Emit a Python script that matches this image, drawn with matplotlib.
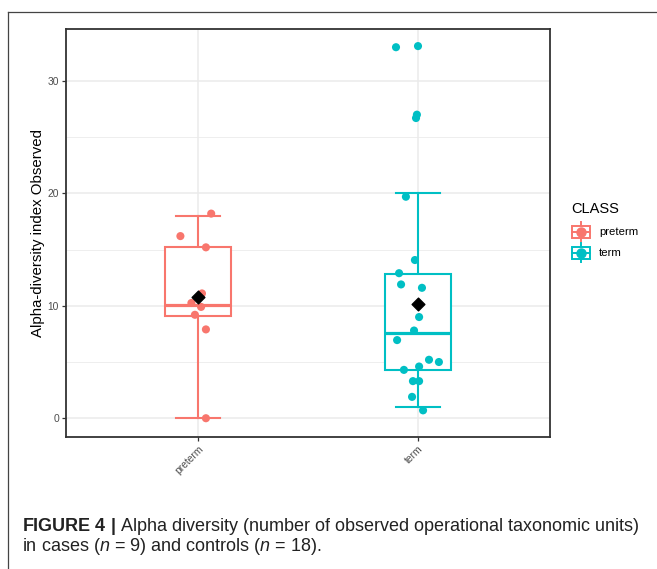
import matplotlib
matplotlib.use('Agg')
import matplotlib.pyplot as plt
from matplotlib.lines import Line2D
from matplotlib.patches import Rectangle
from matplotlib.legend_handler import HandlerBase

plt.rcParams['font.family'] = ['Liberation Sans', 'DejaVu Sans']
plt.rcParams['mathtext.fontset'] = 'custom'
plt.rcParams['mathtext.rm'] = 'Liberation Sans'
plt.rcParams['mathtext.it'] = 'Liberation Sans:italic'
plt.rcParams['mathtext.bf'] = 'Liberation Sans:bold'

classes = ['preterm', 'term']
colors = ['#F8766D', '#00BFC4']

# observed OTUs per sample, with the horizontal jitter
preterm_obs = [18.2, 16.2, 15.2, 11.1, 10.25, 9.9, 9.2, 7.9, 0.0]
preterm_jit = [0.06, -0.08, 0.036, 0.018, -0.03, 0.014, -0.014, 0.036, 0.036]
term_obs = [33.0, 33.1, 27.0, 26.7, 19.7, 14.07, 12.9, 11.9, 11.6, 9.0,
            7.8, 6.95, 5.2, 5.0, 4.6, 4.3, 3.3, 3.3, 1.9, 0.7]
term_jit = [-0.1, 0.0, -0.005, -0.009, -0.055, -0.014, -0.086, -0.077, 0.018, 0.005,
            -0.018, -0.095, 0.05, 0.095, 0.005, -0.064, -0.023, 0.005, -0.027, 0.023]

# box statistics as drawn
box_med = [10.05, 7.55]
box_q1 = [9.1, 4.27]
box_q3 = [15.2, 12.8]
whis_lo = [0.0, 1.0]
whis_hi = [18.0, 20.0]
group_mean = [10.8, 10.15]


class BoxKey(HandlerBase):
    def create_artists(self, legend, orig_handle, xdescent, ydescent,
                       width, height, fontsize, trans):
        c = orig_handle.get_color()
        x0, y0 = -xdescent, -ydescent
        w, h = width, height
        whisk = Line2D([x0 + w / 2] * 2, [y0, y0 + h], color=c, lw=1.4, transform=trans)
        box = Rectangle((x0, y0 + 0.18 * h), w, 0.64 * h, fc='white', ec=c, lw=1.4,
                        transform=trans)
        med = Line2D([x0, x0 + w], [y0 + h / 2] * 2, color=c, lw=1.4, transform=trans)
        dot = Line2D([x0 + w / 2], [y0 + h / 2], marker='o', ms=6.5, color=c,
                     ls='none', transform=trans)
        return [whisk, box, med, dot]


fig = plt.figure(figsize=(6.57, 5.69), dpi=100)
ax = fig.add_axes([66 / 657, 1 - 437 / 569, 484 / 657, 408 / 569])

positions = [1, 2]
stats = []
for i, c in enumerate(classes):
    stats.append(dict(med=box_med[i], q1=box_q1[i], q3=box_q3[i],
                      whislo=whis_lo[i], whishi=whis_hi[i], fliers=[], label=c))

bp = ax.bxp(stats, positions=positions, widths=0.3, capwidths=0.2,
            showfliers=False, patch_artist=True)
for i, c in enumerate(colors):
    bp['boxes'][i].set(facecolor='white', edgecolor=c, linewidth=1.5, zorder=2)
    bp['medians'][i].set(color=c, linewidth=2.3, zorder=3)
    for ln in bp['whiskers'][2 * i:2 * i + 2] + bp['caps'][2 * i:2 * i + 2]:
        ln.set(color=c, linewidth=1.5, zorder=1.5)

groups = [(preterm_obs, preterm_jit), (term_obs, term_jit)]
for i, (vals, jit) in enumerate(groups):
    xs = [positions[i] + j for j in jit]
    ax.scatter(xs, vals, s=34, color=colors[i], edgecolors='none', zorder=4)

ax.scatter(positions, group_mean, marker='D', s=42, color='black', zorder=5)

ax.set_xlim(0.4, 2.6)
ax.set_ylim(-1.67, 34.62)
ax.set_xticks(positions)
ax.set_xticklabels(classes, rotation=45, ha='right', va='top', rotation_mode='anchor')
ax.set_yticks([0, 10, 20, 30])
ax.set_yticks([5, 15, 25], minor=True)
ax.tick_params(axis='both', which='major', length=3, width=0.9, color='#333333',
               labelcolor='#4D4D4D', labelsize=7.4, pad=2)
ax.tick_params(axis='y', which='minor', length=0)
ax.grid(True, which='major', color='#EBEBEB', linewidth=1.1)
ax.grid(True, which='minor', axis='y', color='#EBEBEB', linewidth=0.6)
ax.set_axisbelow(True)
for sp in ax.spines.values():
    sp.set_color('#333333')
    sp.set_linewidth(1.3)

ax.set_ylabel('Alpha-diversity index Observed', fontsize=10.8, labelpad=2)

# legend: title placed on its own, keys below it
fig.text(571 / 657, 1 - 213 / 569, 'CLASS', fontsize=10.5, va='baseline')
handles = [Line2D([], [], color=c) for c in colors]
fig.legend(handles, classes, loc='upper left',
           bbox_to_anchor=(571.5 / 657, 1 - 222.3 / 569), bbox_transform=fig.transFigure,
           frameon=False, fontsize=8.2,
           handlelength=1.6, handleheight=2.2, labelspacing=0.15, handletextpad=0.8,
           borderpad=0.0, borderaxespad=0.0, handler_map={Line2D: BoxKey()})

# outer figure frame (top and left edges visible)
fig.add_artist(Line2D([8 / 657, 1], [1 - 12 / 569] * 2, color='#444444', lw=0.9))
fig.add_artist(Line2D([8 / 657] * 2, [0, 1 - 12 / 569], color='#444444', lw=0.9))

fig.text(22 / 657, 1 - 531 / 569,
         r'$\mathbf{FIGURE\ 4\ |}$ Alpha diversity (number of observed operational taxonomic units)',
         fontsize=13.0, color='#222222', va='baseline')
fig.text(22 / 657, 1 - 551 / 569,
         r'in cases ($n$ = 9) and controls ($n$ = 18).',
         fontsize=13.0, color='#222222', va='baseline')

fig.savefig('out.png', dpi=100)
